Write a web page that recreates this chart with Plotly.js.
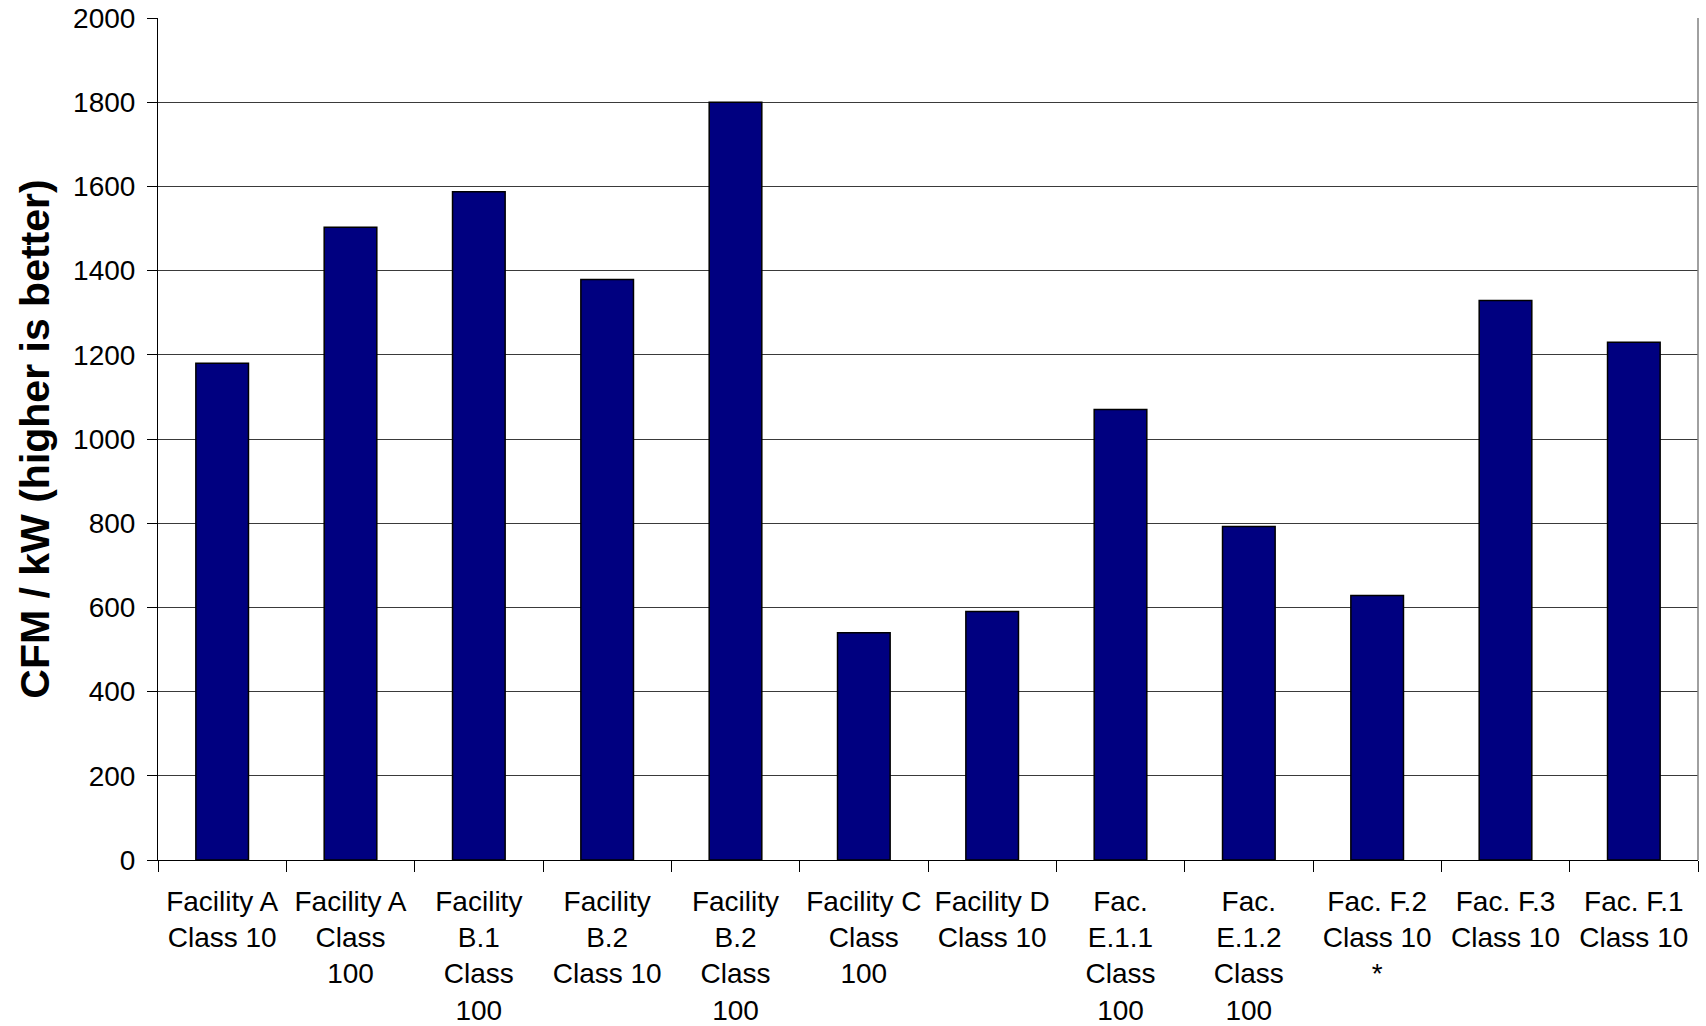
<!DOCTYPE html>
<html>
<head>
<meta charset="utf-8">
<script src="https://cdn.plot.ly/plotly-3.0.1.min.js"></script>
<style>
  html, body { margin: 0; padding: 0; background: #fff; }
  #chart { width: 1706px; height: 1026px; }
</style>
</head>
<body>
<div id="chart"></div>
<script>
// Airflow per unit of fan power, by facility and cleanroom class
const facilities = [
  "Facility A<br>Class 10",
  "Facility A<br>Class<br>100",
  "Facility<br>B.1<br>Class<br>100",
  "Facility<br>B.2<br>Class 10",
  "Facility<br>B.2<br>Class<br>100",
  "Facility C<br>Class<br>100",
  "Facility D<br>Class 10",
  "Fac.<br>E.1.1<br>Class<br>100",
  "Fac.<br>E.1.2<br>Class<br>100",
  "Fac. F.2<br>Class 10<br>*",
  "Fac. F.3<br>Class 10",
  "Fac. F.1<br>Class 10"
];
const cfmPerKw = [1180, 1503, 1587, 1379, 1800, 540, 590, 1070, 792, 628, 1329, 1230];
const yTicks = [0, 200, 400, 600, 800, 1000, 1200, 1400, 1600, 1800, 2000];

const fontFamily = "'Liberation Sans', Arial, Helvetica, sans-serif";

const trace = {
  type: "bar",
  x: facilities,
  y: cfmPerKw,
  marker: { color: "#000080", line: { color: "#000000", width: 1.5 } },
  hoverinfo: "x+y"
};

const layout = {
  width: 1706,
  height: 1026,
  margin: { l: 158, r: 8, t: 18, b: 166 },
  paper_bgcolor: "#ffffff",
  plot_bgcolor: "#ffffff",
  bargap: 0.59,
  showlegend: false,
  font: { family: fontFamily, size: 28, color: "#000000" },
  xaxis: {
    type: "category",
    tickson: "boundaries",
    ticks: "outside",
    ticklen: 11,
    tickcolor: "#000000",
    tickwidth: 1,
    showline: true,
    linecolor: "#000000",
    linewidth: 1,
    showgrid: false,
    ticklabelstandoff: 16,
    tickfont: { family: fontFamily, size: 28, color: "#000000" },
    fixedrange: true
  },
  yaxis: {
    range: [0, 2000],
    tickvals: yTicks,
    ticktext: yTicks.map(String),
    ticks: "outside",
    ticklen: 10,
    tickcolor: "#000000",
    showline: true,
    linecolor: "#000000",
    linewidth: 1,
    showgrid: true,
    gridcolor: "#3a3a3a",
    gridwidth: 1,
    zeroline: false,
    ticklabelstandoff: 6,
    tickfont: { family: fontFamily, size: 28, color: "#000000" },
    title: {
      text: "CFM / kW (higher is better)",
      font: { family: fontFamily, size: 41, color: "#000000", weight: "bold" },
      standoff: 10
    },
    fixedrange: true
  },
  shapes: [
    {
      type: "line", xref: "paper", yref: "paper",
      x0: 1, x1: 1, y0: 0, y1: 1,
      line: { color: "#808080", width: 1.5 }
    }
  ]
};

Plotly.newPlot("chart", [trace], layout, { displayModeBar: false, staticPlot: true });
</script>
</body>
</html>
